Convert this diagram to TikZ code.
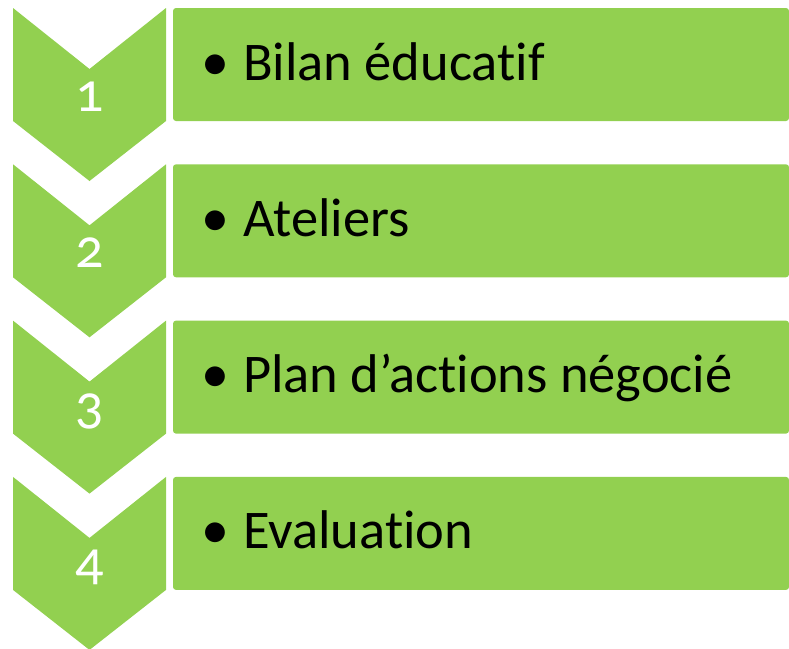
\documentclass[tikz,border=0pt]{standalone}
\usepackage{fontspec}
\setmainfont[Ligatures=NoCommon]{Carlito}
\newfontfamily\numfont[Numbers=OldStyle]{Carlito}
\definecolor{lgreen}{HTML}{92D050}
\begin{document}
\begin{tikzpicture}[x=1pt,y=-1pt,
  chev/.style={fill=lgreen,draw=none},
  bar/.style={fill=lgreen,draw=none,rounded corners=3pt},
  num/.style={anchor=base,text=white,inner sep=0pt,font=\fontsize{56}{56}\selectfont\numfont},
  bul/.style={anchor=base,inner sep=0pt,font=\fontsize{56}{56}\selectfont},
  lbl/.style={anchor=base west,inner sep=0pt,font=\fontsize{54.5}{54.5}\selectfont}]
\useasboundingbox (0,0) rectangle (789,648);
\foreach \i/\t [count=\k from 0] in {1/Bilan éducatif,2/Ateliers,3/Plan d’actions négocié,4/Evaluation}{
  \pgfmathsetmacro{\o}{156.3*\k}
  \fill[chev] (13,8+\o) -- (89.5,69+\o) -- (166,8+\o) -- (166,121+\o) -- (89.5,181+\o) -- (13,121+\o) -- cycle;
  \fill[bar] (173,8+\o) rectangle (789,121+\o);
  \node[num] (n\i) at (89.5,111+\o) {\i};
  \node[bul] (b\i) at (215.5,80+\o) {•};
  \node[lbl] (t\i) at (243,80+\o) {\t};
}
\end{tikzpicture}
\end{document}
